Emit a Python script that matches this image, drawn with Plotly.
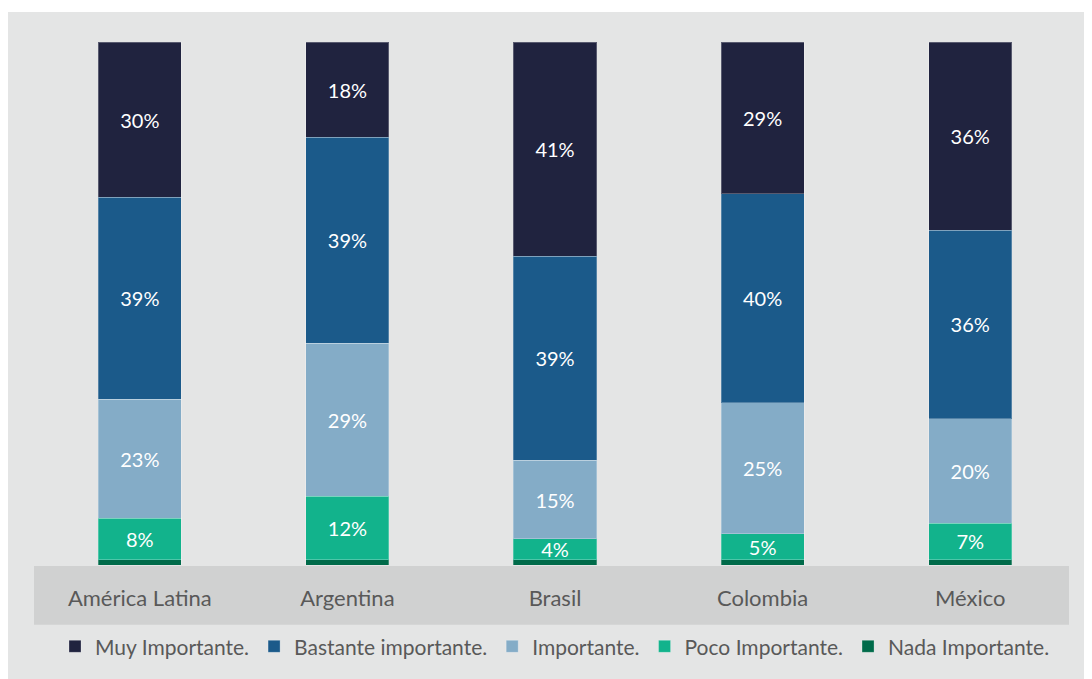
import plotly.graph_objects as go

categories = ["América Latina", "Argentina", "Brasil", "Colombia", "México"]
series_names = ["Muy Importante.", "Bastante importante.", "Importante.", "Poco Importante.", "Nada Importante."]
muy = [30, 18, 41, 29, 36]
bastante = [39, 39, 39, 40, 36]
importante = [23, 29, 15, 25, 20]
poco = [8, 12, 4, 5, 7]
nada = [1, 1, 1, 1, 1]

colors = ["#20233F", "#1B5A8A", "#84ACC7", "#12B38C", "#006B4A"]

# page body has an 8px margin, so the figure is drawn 8px right/down
OFF = 8
W, H = 1092 - OFF, 679 - OFF
L, R, T, B = 36 - OFF, 18, 42 - OFF, 112
pw, ph = W - L - R, H - T - B

def px_x(x):
    return (x - OFF - L) / pw

def px_y(y):
    return (H - B - (y - OFF)) / ph

fig = go.Figure()
stack = [
    (series_names[4], nada, colors[4], False),
    (series_names[3], poco, colors[3], True),
    (series_names[2], importante, colors[2], True),
    (series_names[1], bastante, colors[1], True),
    (series_names[0], muy, colors[0], True),
]
for name, vals, col, lab in stack:
    fig.add_trace(go.Bar(
        x=categories, y=vals, name=name,
        marker=dict(color=col, line=dict(color="rgba(255,255,255,0.25)", width=1)),
        text=[f"{v}%" for v in vals] if lab else None,
        textposition="inside" if lab else "none",
        insidetextanchor="middle",
        textfont=dict(color="white", size=20, family="Lato"),
        hoverinfo="x+y+name",
    ))

fig.update_layout(
    barmode="stack",
    barnorm="percent",
    bargap=0.6,
    width=W, height=H,
    margin=dict(l=L, r=R, t=T, b=B),
    paper_bgcolor="white",
    plot_bgcolor="rgba(0,0,0,0)",
    font=dict(family="Lato", color="#595959", size=19),
    showlegend=True,
    legend=dict(
        orientation="h", traceorder="reversed",
        x=0.5, xanchor="center", y=px_y(649), yanchor="middle",
        font=dict(size=21, color="#595959", family="Lato"),
        bgcolor="rgba(0,0,0,0)",
        itemwidth=30,
        tracegroupgap=0,
    ),
    uniformtext=dict(mode="show", minsize=18),
    shapes=[
        dict(type="rect", xref="paper", yref="paper", layer="below",
             x0=px_x(7), x1=px_x(1100), y0=px_y(690), y1=px_y(12),
             fillcolor="#E4E5E5", line=dict(width=0)),
        dict(type="rect", xref="paper", yref="paper", layer="below",
             x0=px_x(34), x1=px_x(1069), y0=px_y(627), y1=px_y(568),
             fillcolor="#D0D1D1", line=dict(width=0)),
    ],
)
fig.update_xaxes(showgrid=False, showline=False, zeroline=False,
                 tickfont=dict(size=22, color="#595959", family="Lato"),
                 ticks="", ticklabelstandoff=18)
fig.update_yaxes(visible=False, range=[0, 100])

fig.write_html("out.html")
